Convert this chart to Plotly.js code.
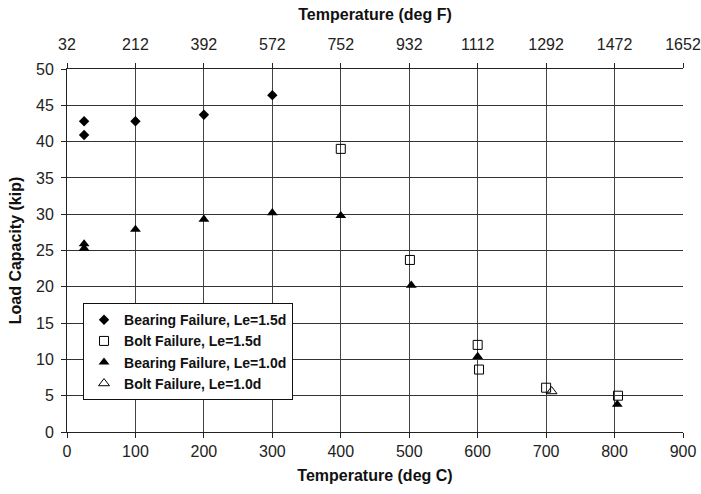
<!DOCTYPE html>
<html><head><meta charset="utf-8">
<script src="https://cdn.plot.ly/plotly-3.0.1.min.js"></script>
<style>html,body{margin:0;padding:0;background:#fff}</style>
</head><body><div id="chart" style="width:701px;height:494px"></div>
<script>
const bearing15_x = [25, 25, 100, 200, 300];
const bearing15_y = [42.8, 40.9, 42.8, 43.7, 46.4];
const bolt15_x = [400, 501, 600, 602, 700, 805];
const bolt15_y = [39.0, 23.7, 12.0, 8.6, 6.1, 5.0];
const bearing10_x = [25, 25, 100, 200, 300, 400, 503, 600, 804];
const bearing10_y = [25.9, 25.3, 27.9, 29.3, 30.2, 29.8, 20.2, 10.4, 3.8];
const bolt10_x = [708];
const bolt10_y = [5.6];
const fTicks = [32, 212, 392, 572, 752, 932, 1112, 1292, 1472, 1652];

const font = 'Liberation Sans, Arial, sans-serif';
const traces = [
  {x: bearing15_x, y: bearing15_y, mode: 'markers', name: 'Bearing Failure, Le=1.5d',
   marker: {symbol: 'diamond', size: 8, color: '#000'}},
  {x: bolt15_x, y: bolt15_y, mode: 'markers', name: 'Bolt Failure, Le=1.5d',
   marker: {symbol: 'square-open', size: 9, color: '#000', line: {width: 1}}},
  {x: bearing10_x, y: bearing10_y, mode: 'markers', name: 'Bearing Failure, Le=1.0d',
   marker: {symbol: 'triangle-up', size: 9.5, color: '#000'}},
  {x: bolt10_x, y: bolt10_y, mode: 'markers', name: 'Bolt Failure, Le=1.0d',
   marker: {symbol: 'triangle-up-open', size: 9.5, color: '#000', line: {width: 1}}},
  {x: [fTicks[0], fTicks[fTicks.length-1]], y: [0, 0], xaxis: 'x2', mode: 'markers',
   marker: {opacity: 0}, showlegend: false, hoverinfo: 'skip'}
];
const layout = {
  width: 701, height: 494,
  margin: {l: 67, r: 18, t: 69, b: 62},
  paper_bgcolor: '#fff', plot_bgcolor: '#fff',
  font: {family: font, color: '#222', size: 16},
  showlegend: true,
  legend: {x: 0.026, y: 0.355, xanchor: 'left', yanchor: 'top', bgcolor: '#fff',
           bordercolor: '#111', borderwidth: 1, font: {family: font, size: 14, color: '#111', weight: 'bold'},
           tracegroupgap: 0, itemwidth: 30},
  xaxis: {range: [0, 900], tickvals: [0,100,200,300,400,500,600,700,800,900],
          showgrid: true, gridcolor: '#444', gridwidth: 1, zeroline: false,
          showline: true, linecolor: '#222', linewidth: 1, ticks: 'outside', ticklen: 5, tickcolor: '#222',
          tickfont: {size: 16, color: '#222'}, ticklabelstandoff: 0,
          title: {text: 'Temperature (deg C)', font: {size: 16, color: '#111', weight: 'bold'}, standoff: 10}},
  xaxis2: {range: [32, 1652], tickvals: fTicks, overlaying: 'x', side: 'top',
           showgrid: false, zeroline: false, showline: true, linecolor: '#222', linewidth: 1,
           ticks: 'outside', ticklen: 5, tickcolor: '#222', tickfont: {size: 16, color: '#222'},
           ticklabelstandoff: 7,
           title: {text: 'Temperature (deg F)', font: {size: 16, color: '#111', weight: 'bold'}, standoff: 10}},
  yaxis: {range: [0, 50], dtick: 5, showgrid: true, gridcolor: '#333', gridwidth: 1, zeroline: false,
          showline: true, linecolor: '#222', linewidth: 1, ticks: 'outside', ticklen: 5, tickcolor: '#222',
          tickfont: {size: 16, color: '#222'}, ticklabelstandoff: 4,
          title: {text: 'Load Capacity (kip)', font: {size: 16, color: '#111', weight: 'bold'}, standoff: 10}}
};
Plotly.newPlot('chart', traces, layout, {staticPlot: true});
</script></body></html>
